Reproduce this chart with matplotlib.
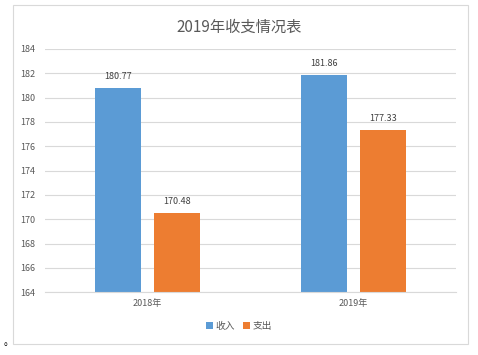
import numpy as np
import matplotlib.pyplot as plt
from matplotlib.patches import Rectangle

plt.rcParams['font.family'] = ['Noto Sans CJK SC', 'DejaVu Sans']

# dados
categorias = ['2018年', '2019年']
receita = [180.77, 181.86]
despesa = [170.48, 177.33]
series = ['收入', '支出']
titulo = '2019年收支情况表'

cor_azul = '#5B9BD5'
cor_laranja = '#ED7D31'
cor_texto = '#595959'

fig = plt.figure(figsize=(4.78, 3.55), dpi=100)
ax = fig.add_axes([0.094, 0.177, 0.860, 0.685])

# moldura do gráfico
fig.patches.append(Rectangle((0.0272, 0.031), 0.952, 0.955, transform=fig.transFigure,
                             fill=False, edgecolor='#D9D9D9', linewidth=0.8))
fig.text(0.008, 0.028, '。', fontsize=7, color='black')

x = np.arange(len(categorias))
largura = 0.224
desloc = 0.143
base = 164

b1 = ax.bar(x - desloc, np.array(receita) - base, largura, bottom=base, color=cor_azul,
            label=series[0], zorder=2)
b2 = ax.bar(x + desloc, np.array(despesa) - base, largura, bottom=base, color=cor_laranja,
            label=series[1], zorder=2)

for barras, vals in ((b1, receita), (b2, despesa)):
    for r, v in zip(barras, vals):
        ax.annotate(f'{v:.2f}', (r.get_x() + r.get_width() / 2, v), xytext=(0, 5),
                    textcoords='offset points', ha='center', va='bottom',
                    fontsize=6.5, color='#404040')

ax.set_xlim(-0.5, 1.5)
ax.set_ylim(164, 184)
ax.set_yticks(np.arange(164, 185, 2))
ax.set_xticks(x)
ax.set_xticklabels(categorias)
ax.tick_params(axis='both', length=0, labelsize=6.5, colors=cor_texto)
ax.tick_params(axis='y', pad=7)
ax.tick_params(axis='x', pad=5)
ax.grid(axis='y', color='#D9D9D9', linewidth=0.8, zorder=0)
for lado in ['top', 'right', 'left']:
    ax.spines[lado].set_visible(False)
ax.spines['bottom'].set_color('#D9D9D9')
ax.spines['bottom'].set_linewidth(0.8)

fig.text(0.5, 0.924, titulo, ha='center', va='center', fontsize=11, color=cor_texto)

fig.legend(handles=[b1, b2], labels=series, loc='center', bbox_to_anchor=(0.5, 0.082),
           ncol=2, frameon=False, fontsize=7, labelcolor=cor_texto, handlelength=0.7,
           handleheight=0.7, handletextpad=0.3, columnspacing=0.8)

fig.savefig('out.png', dpi=100)
